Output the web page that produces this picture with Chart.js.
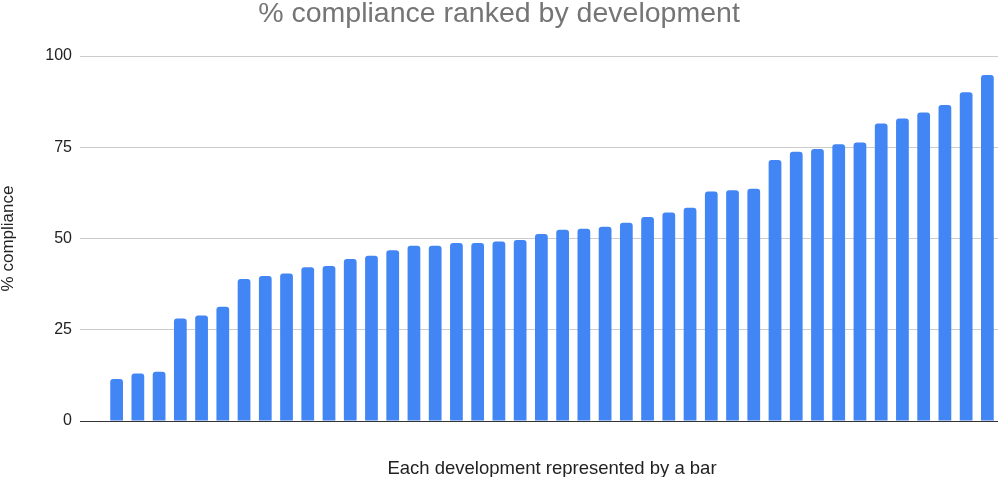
<!DOCTYPE html>
<html>
<head>
<meta charset="utf-8">
<script src="https://cdn.jsdelivr.net/npm/chart.js@4.4.1/dist/chart.umd.min.js"></script>
<style>
html, body { margin: 0; padding: 0; background: #ffffff; }
#wrap { width: 1000px; height: 477px; position: relative; }
</style>
</head>
<body>
<div id="wrap"><canvas id="c"></canvas></div>
<script>
const categories = ["1","2","3","4","5","6","7","8","9","10","11","12","13","14","15","16","17","18","19","20","21","22","23","24","25","26","27","28","29","30","31","32","33","34","35","36","37","38","39","40","41","42"];
const compliance = [11.5, 13.0, 13.5, 28.1, 28.9, 31.3, 38.9, 39.7, 40.4, 42.1, 42.5, 44.4, 45.3, 46.8, 48.0, 48.0, 48.8, 48.8, 49.2, 49.6, 51.2, 52.4, 52.7, 53.2, 54.3, 55.9, 57.1, 58.4, 62.9, 63.2, 63.6, 71.5, 73.8, 74.5, 75.8, 76.3, 81.5, 82.9, 84.5, 86.6, 90.1, 94.8];
const yTicks = [0, 25, 50, 75, 100];
const chartTitle = "% compliance ranked by development";
const xTitle = "Each development represented by a bar";
const yTitle = "% compliance";

const FONT = "'Liberation Sans', Arial, sans-serif";

new Chart(document.getElementById('c'), {
  type: 'bar',
  data: {
    labels: categories,
    datasets: [{
      data: compliance,
      backgroundColor: '#4285F4',
      borderWidth: 0,
      borderRadius: { topLeft: 3, topRight: 3, bottomLeft: 0, bottomRight: 0 },
      borderSkipped: 'bottom',
      categoryPercentage: 1.0,
      barPercentage: 0.6
    }]
  },
  options: {
    responsive: true,
    maintainAspectRatio: false,
    animation: false,
    layout: { padding: { left: 0, right: 2, top: 0, bottom: 0 } },
    plugins: {
      legend: { display: false },
      tooltip: { enabled: false },
      title: {
        display: true,
        text: chartTitle,
        color: '#757575',
        font: { family: FONT, size: 28.5, weight: 'normal', lineHeight: 0.8 },
        padding: { top: 3, bottom: 30.2 }
      }
    },
    scales: {
      x: {
        grid: { display: false },
        border: { display: false },
        ticks: { display: false },
        title: {
          display: true,
          text: xTitle,
          color: '#222222',
          font: { family: FONT, size: 18.5, lineHeight: 0.9 },
          padding: { top: 0, bottom: 0 }
        },
        afterFit: function(scale) { scale.height = 56; }
      },
      y: {
        min: 0,
        max: 100,
        afterBuildTicks: function(scale) { scale.ticks = yTicks.map(v => ({ value: v })); },
        grid: {
          color: ctx => (ctx.tick && ctx.tick.value === 0) ? '#333333' : '#cccccc',
          tickColor: ctx => (ctx.tick && ctx.tick.value === 0) ? '#333333' : '#cccccc',
          lineWidth: 1,
          tickLength: 26,
          drawTicks: true
        },
        border: { display: false },
        ticks: {
          color: '#222222',
          font: { family: FONT, size: 16 },
          padding: 8
        },
        title: {
          display: true,
          text: yTitle,
          color: '#222222',
          font: { family: FONT, size: 17, lineHeight: 1 },
          padding: { top: 0, bottom: 0 }
        },
        afterFit: function(scale) { scale.width = 106; }
      }
    }
  }
});
</script>
</body>
</html>
